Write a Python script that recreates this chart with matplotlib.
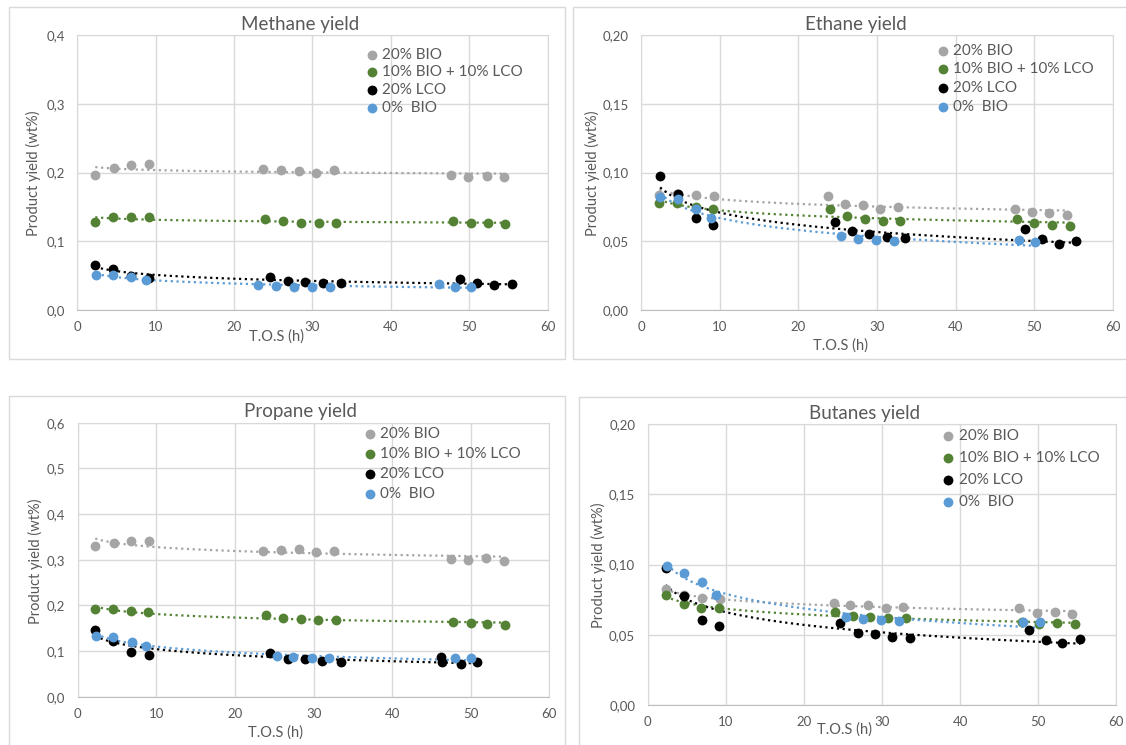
import numpy as np
import matplotlib.pyplot as plt
from matplotlib.patches import Rectangle

plt.rcParams['font.family'] = ['Lato', 'DejaVu Sans']

labels = ['20% BIO', '10% BIO + 10% LCO', '20% LCO', '0%  BIO']
colors = ['#a5a5a5', '#548235', '#000000', '#5b9bd5']

# Methane
me_x_bio = [2.3, 4.7, 6.9, 9.2, 23.7, 26.0, 28.3, 30.5, 32.8, 47.7, 49.9, 52.2, 54.4]
me_y_bio = [0.196, 0.207, 0.211, 0.212, 0.205, 0.203, 0.202, 0.199, 0.204, 0.196, 0.194, 0.195, 0.194]
me_x_mix = [2.3, 4.6, 6.8, 9.1, 24.0, 26.3, 28.5, 30.8, 33.0, 47.9, 50.2, 52.4, 54.6]
me_y_mix = [0.128, 0.136, 0.135, 0.136, 0.133, 0.130, 0.127, 0.126, 0.126, 0.129, 0.126, 0.126, 0.125]
me_x_lco = [2.3, 4.6, 6.9, 9.1, 24.6, 26.9, 29.1, 31.3, 33.7, 48.8, 51.0, 53.2, 55.5]
me_y_lco = [0.066, 0.060, 0.050, 0.047, 0.048, 0.042, 0.041, 0.039, 0.039, 0.045, 0.039, 0.036, 0.038]
me_x_0 = [2.4, 4.5, 6.9, 8.8, 23.1, 25.4, 27.6, 29.9, 32.2, 46.2, 48.2, 50.2]
me_y_0 = [0.051, 0.051, 0.048, 0.044, 0.036, 0.035, 0.034, 0.033, 0.033, 0.038, 0.034, 0.033]

# Ethane
et_x_bio = [2.3, 4.6, 6.9, 9.2, 23.7, 25.9, 28.2, 30.4, 32.6, 47.5, 49.7, 51.9, 54.2]
et_y_bio = [0.0836, 0.0841, 0.0839, 0.0832, 0.0832, 0.0771, 0.0761, 0.0737, 0.0747, 0.0735, 0.0710, 0.0703, 0.0691]
et_x_mix = [2.3, 4.6, 6.9, 9.1, 24.0, 26.2, 28.4, 30.7, 32.9, 47.8, 50.0, 52.2, 54.5]
et_y_mix = [0.0776, 0.0776, 0.0752, 0.0735, 0.0732, 0.0684, 0.0659, 0.0650, 0.0650, 0.0664, 0.0635, 0.0621, 0.0613]
et_x_lco = [2.4, 4.7, 6.9, 9.1, 24.6, 26.8, 29.0, 31.2, 33.6, 48.8, 51.0, 53.1, 55.3]
et_y_lco = [0.0975, 0.0844, 0.0672, 0.0621, 0.0642, 0.0572, 0.0550, 0.0533, 0.0521, 0.0592, 0.0514, 0.0480, 0.0504]
et_x_0 = [2.4, 4.7, 6.9, 8.9, 25.4, 27.6, 29.9, 32.1, 48.1, 50.1]
et_y_0 = [0.0824, 0.0805, 0.0735, 0.0667, 0.0538, 0.0514, 0.0509, 0.0502, 0.0507, 0.0492]

# Propane
pr_x_bio = [2.2, 4.6, 6.8, 9.1, 23.6, 25.9, 28.1, 30.3, 32.6, 47.5, 49.7, 51.9, 54.2]
pr_y_bio = [0.331, 0.336, 0.341, 0.340, 0.320, 0.321, 0.323, 0.316, 0.320, 0.301, 0.300, 0.303, 0.298]
pr_x_mix = [2.2, 4.5, 6.7, 8.9, 23.9, 26.1, 28.4, 30.6, 32.9, 47.7, 50.0, 52.1, 54.4]
pr_y_mix = [0.191, 0.191, 0.188, 0.186, 0.178, 0.173, 0.171, 0.167, 0.167, 0.163, 0.162, 0.160, 0.158]
pr_x_lco = [2.2, 4.5, 6.8, 9.0, 24.4, 26.7, 28.9, 31.1, 33.5, 46.2, 46.3, 48.7, 50.8]
pr_y_lco = [0.147, 0.122, 0.099, 0.091, 0.095, 0.083, 0.082, 0.078, 0.077, 0.088, 0.077, 0.072, 0.076]
pr_x_0 = [2.3, 4.5, 6.9, 8.7, 25.3, 27.4, 29.8, 32.0, 48.0, 50.0]
pr_y_0 = [0.134, 0.130, 0.120, 0.111, 0.090, 0.088, 0.085, 0.085, 0.085, 0.084]

# Butanes
bu_x_bio = [2.3, 4.6, 6.9, 9.2, 23.8, 25.9, 28.2, 30.5, 32.7, 47.6, 49.9, 52.1, 54.3]
bu_y_bio = [0.0824, 0.0784, 0.0760, 0.0755, 0.0724, 0.0713, 0.0715, 0.0689, 0.0698, 0.0694, 0.0658, 0.0663, 0.0651]
bu_x_mix = [2.3, 4.6, 6.8, 9.1, 24.0, 26.3, 28.5, 30.8, 33.1, 47.9, 50.1, 52.4, 54.7]
bu_y_mix = [0.0784, 0.0717, 0.0694, 0.0689, 0.0665, 0.0637, 0.0629, 0.0618, 0.0618, 0.0594, 0.0575, 0.0584, 0.0580]
bu_x_lco = [2.3, 4.6, 6.9, 9.1, 24.6, 26.9, 29.1, 31.3, 33.6, 48.8, 51.0, 53.1, 55.4]
bu_y_lco = [0.0979, 0.0779, 0.0603, 0.0563, 0.0587, 0.0511, 0.0504, 0.0482, 0.0477, 0.0532, 0.0463, 0.0444, 0.0470]
bu_x_0 = [2.5, 4.6, 6.9, 8.8, 25.4, 27.6, 29.9, 32.2, 48.0, 50.2]
bu_y_0 = [0.0988, 0.0943, 0.0876, 0.0781, 0.0629, 0.0613, 0.0603, 0.0596, 0.0591, 0.0589]

panels = [
    dict(title='Methane yield', rect=[0.0686, 0.5839, 0.4178, 0.3691],
         xs=[me_x_bio, me_x_mix, me_x_lco, me_x_0], ys=[me_y_bio, me_y_mix, me_y_lco, me_y_0],
         ymax=0.4, ystep=0.1, fmt='{:.1f}', tpos=(0.474, 1.04), xl=(0.424, -0.098), yl=(-0.094, 0.498),
         leg=(0.613, 0.954), lsp=0.25, box=(8.6, 7.3, 565, 359.3)),
    dict(title='Ethane yield', rect=[0.5695, 0.5839, 0.4189, 0.3691],
         xs=[et_x_bio, et_x_mix, et_x_lco, et_x_0], ys=[et_y_bio, et_y_mix, et_y_lco, et_y_0],
         ymax=0.2, ystep=0.05, fmt='{:.2f}', tpos=(0.454, 1.04), xl=(0.423, -0.13), yl=(-0.103, 0.498),
         leg=(0.626, 0.968), lsp=0.3, box=(572.5, 7.3, 1140, 359.3)),
    dict(title='Propane yield', rect=[0.0692, 0.0648, 0.4187, 0.3678],
         xs=[pr_x_bio, pr_x_mix, pr_x_lco, pr_x_0], ys=[pr_y_bio, pr_y_mix, pr_y_lco, pr_y_0],
         ymax=0.6, ystep=0.1, fmt='{:.1f}', tpos=(0.473, 1.04), xl=(0.42, -0.129), yl=(-0.091, 0.493),
         leg=(0.606, 0.984), lsp=0.38, box=(8.6, 395.7, 565, 760)),
    dict(title='Butanes yield', rect=[0.5752, 0.0537, 0.4162, 0.3768],
         xs=[bu_x_bio, bu_x_mix, bu_x_lco, bu_x_0], ys=[bu_y_bio, bu_y_mix, bu_y_lco, bu_y_0],
         ymax=0.2, ystep=0.05, fmt='{:.2f}', tpos=(0.463, 1.039), xl=(0.421, -0.087), yl=(-0.106, 0.499),
         leg=(0.628, 0.984), lsp=0.52, box=(579.3, 396.7, 1140, 760)),
]

W, H = 1126, 745
fig = plt.figure(figsize=(W / 100, H / 100), dpi=100)

for p in panels:
    x0, y0, x1, y1 = p['box']
    fig.patches.append(Rectangle((x0 / W, 1 - y1 / H), (x1 - x0) / W, (y1 - y0) / H,
                                 transform=fig.transFigure, fill=False,
                                 edgecolor='#d9d9d9', linewidth=1.0))

    ax = fig.add_axes(p['rect'])
    handles = []
    for xs, ys, c, lab in zip(p['xs'], p['ys'], colors, labels):
        xs = np.array(xs)
        ys = np.array(ys)
        h = ax.scatter(xs, ys, s=50, color=c, zorder=3, label=lab, linewidths=0)
        handles.append(h)
        # logarithmic trendline
        b, a = np.polyfit(np.log(xs), ys, 1)
        xf = np.linspace(xs.min(), xs.max(), 200)
        ax.plot(xf, a + b * np.log(xf), color=c, linestyle=(0, (1, 1.6)),
                linewidth=1.6, zorder=2)

    ax.set_xlim(0, 60)
    ax.set_ylim(0, p['ymax'])
    ax.set_xticks(np.arange(0, 61, 10))
    yt = np.arange(0, p['ymax'] + 1e-9, p['ystep'])
    ax.set_yticks(yt)
    ax.set_yticklabels([p['fmt'].format(v).replace('.', ',') for v in yt])
    ax.grid(True, color='#d9d9d9', linewidth=1.0)
    ax.set_axisbelow(True)
    for s in ax.spines.values():
        s.set_color('#d9d9d9')
    ax.spines['bottom'].set_color('#bfbfbf')
    ax.tick_params(length=0, labelsize=9.5, colors='#595959')
    ax.tick_params(axis='y', pad=9)
    ax.tick_params(axis='x', pad=8)

    ax.text(p['tpos'][0], p['tpos'][1], p['title'], transform=ax.transAxes,
            ha='center', va='center', fontsize=13.5, color='#595959')
    ax.set_xlabel('T.O.S (h)', fontsize=10.5, color='#595959', va='center')
    ax.xaxis.set_label_coords(*p['xl'])
    ax.set_ylabel('Product yield (wt%)', fontsize=10.5, color='#595959', va='center')
    ax.yaxis.set_label_coords(*p['yl'])

    leg = ax.legend(handles=handles, loc='upper left', bbox_to_anchor=p['leg'],
                    frameon=False, fontsize=11, handlelength=0.8, handletextpad=0.3,
                    borderpad=0, borderaxespad=0, labelspacing=p['lsp'], scatterpoints=1,
                    markerscale=1.0)
    for t in leg.get_texts():
        t.set_color('#595959')

fig.savefig('out.png', dpi=100)
